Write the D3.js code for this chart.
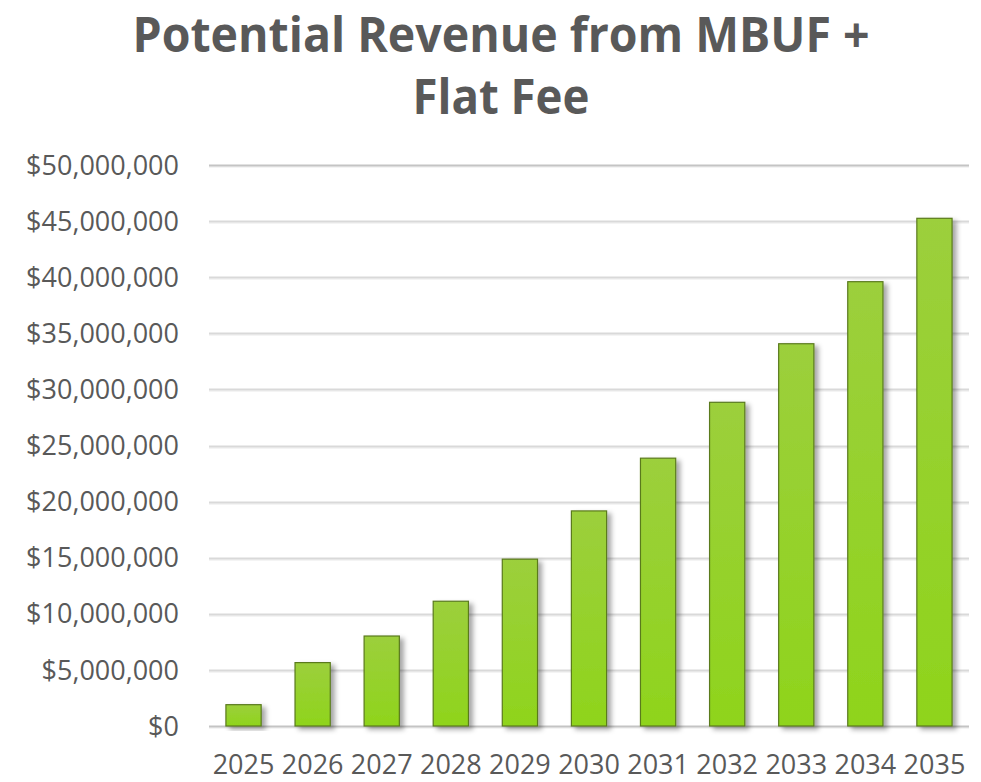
<!DOCTYPE html>
<html>
<head>
<meta charset="utf-8">
<script src="https://cdn.jsdelivr.net/npm/d3@7"></script>
<style>
  body { margin: 0; background: #fff; }
  svg text { font-family: "Open Sans", "Noto Sans", sans-serif; }
</style>
</head>
<body>
<div id="chart"></div>
<script>
const years = ["2025", "2026", "2027", "2028", "2029", "2030", "2031", "2032", "2033", "2034", "2035"];
const revenue = [1900000, 5650000, 8020000, 11120000, 14870000, 19170000, 23870000, 28850000, 34070000, 39600000, 45250000];
const yTicks = [0, 5000000, 10000000, 15000000, 20000000, 25000000, 30000000, 35000000, 40000000, 45000000, 50000000];
const titleLines = ["Potential Revenue from MBUF +", "Flat Fee"];

const width = 981, height = 782;
const margin = { top: 165, right: 12, bottom: 56, left: 209 };

const svg = d3.select("#chart")
  .append("svg")
  .attr("width", width)
  .attr("height", height);

const defs = svg.append("defs");

let grad = defs.append("linearGradient")
  .attr("id", "barGrad")
  .attr("x1", 0).attr("y1", 0).attr("x2", 0).attr("y2", 1);
grad.append("stop").attr("offset", "0%").attr("stop-color", "#9ccf3c");
grad.append("stop").attr("offset", "100%").attr("stop-color", "#8fd41c");

let shadow = defs.append("filter")
  .attr("id", "shadow")
  .attr("x", "-20%").attr("y", "-10%")
  .attr("width", "150%").attr("height", "130%");
shadow.append("feDropShadow")
  .attr("dx", 4).attr("dy", 3)
  .attr("stdDeviation", 2.5)
  .attr("flood-color", "#000")
  .attr("flood-opacity", 0.35);

const x = d3.scaleBand()
  .domain(years)
  .range([margin.left, width - margin.right])
  .paddingInner(0.49)
  .paddingOuter(0.245);

const y = d3.scaleLinear()
  .domain([0, 50000000])
  .range([height - margin.bottom, margin.top]);

// title
svg.append("g")
  .selectAll("text")
  .data(titleLines)
  .enter()
  .append("text")
  .attr("x", 501)
  .attr("y", (d, i) => 52 + i * 62)
  .attr("text-anchor", "middle")
  .attr("font-size", 48)
  .attr("font-weight", "bold")
  .attr("fill", "#595959")
  .attr("textLength", (d, i) => (i === 0 ? 737 : 177))
  .attr("lengthAdjust", "spacingAndGlyphs")
  .text((d) => d);

// gridlines (light line with a faint shadow under it)
let grid = svg.append("g");
grid.selectAll("line.shade")
  .data(yTicks)
  .enter()
  .append("line")
  .attr("class", "shade")
  .attr("x1", margin.left)
  .attr("x2", width - margin.right)
  .attr("y1", (d) => Math.round(y(d)) + 2)
  .attr("y2", (d) => Math.round(y(d)) + 2)
  .attr("stroke", "#f0f0f0")
  .attr("stroke-width", 1.5);
grid.selectAll("line.main")
  .data(yTicks)
  .enter()
  .append("line")
  .attr("class", "main")
  .attr("x1", margin.left)
  .attr("x2", width - margin.right)
  .attr("y1", (d) => Math.round(y(d)) + 0.5)
  .attr("y2", (d) => Math.round(y(d)) + 0.5)
  .attr("stroke", (d) => (d === 0 || d === 50000000 ? "#c4c4c4" : "#d9d9d9"))
  .attr("stroke-width", 2);

// y axis labels
const fmt = d3.format("$,.0f");
const yAxis = d3.axisLeft(y)
  .tickValues(yTicks)
  .tickFormat(fmt)
  .tickSize(0)
  .tickPadding(30);

let yG = svg.append("g")
  .attr("transform", `translate(${margin.left},0)`)
  .call(yAxis);
yG.select(".domain").remove();
yG.selectAll("text")
  .attr("font-size", 27)
  .attr("fill", "#595959")
  .style("font-family", '"Open Sans", sans-serif')
  .attr("dy", "0.34em");

// bars
svg.append("g")
  .selectAll("rect")
  .data(revenue)
  .enter()
  .append("rect")
  .attr("x", (d, i) => x(years[i]))
  .attr("y", (d) => y(d))
  .attr("width", x.bandwidth())
  .attr("height", (d) => y(0) - y(d))
  .attr("fill", "url(#barGrad)")
  .attr("stroke", "#5a7a1e")
  .attr("stroke-width", 1.2)
  .attr("filter", "url(#shadow)");

// x axis labels
const xAxis = d3.axisBottom(x).tickSize(0).tickPadding(28.5);
let xG = svg.append("g")
  .attr("transform", `translate(0,${y(0)})`)
  .call(xAxis);
xG.select(".domain").remove();
xG.selectAll("text")
  .attr("font-size", 27)
  .attr("fill", "#595959")
  .style("font-family", '"Open Sans", sans-serif');
</script>
</body>
</html>
